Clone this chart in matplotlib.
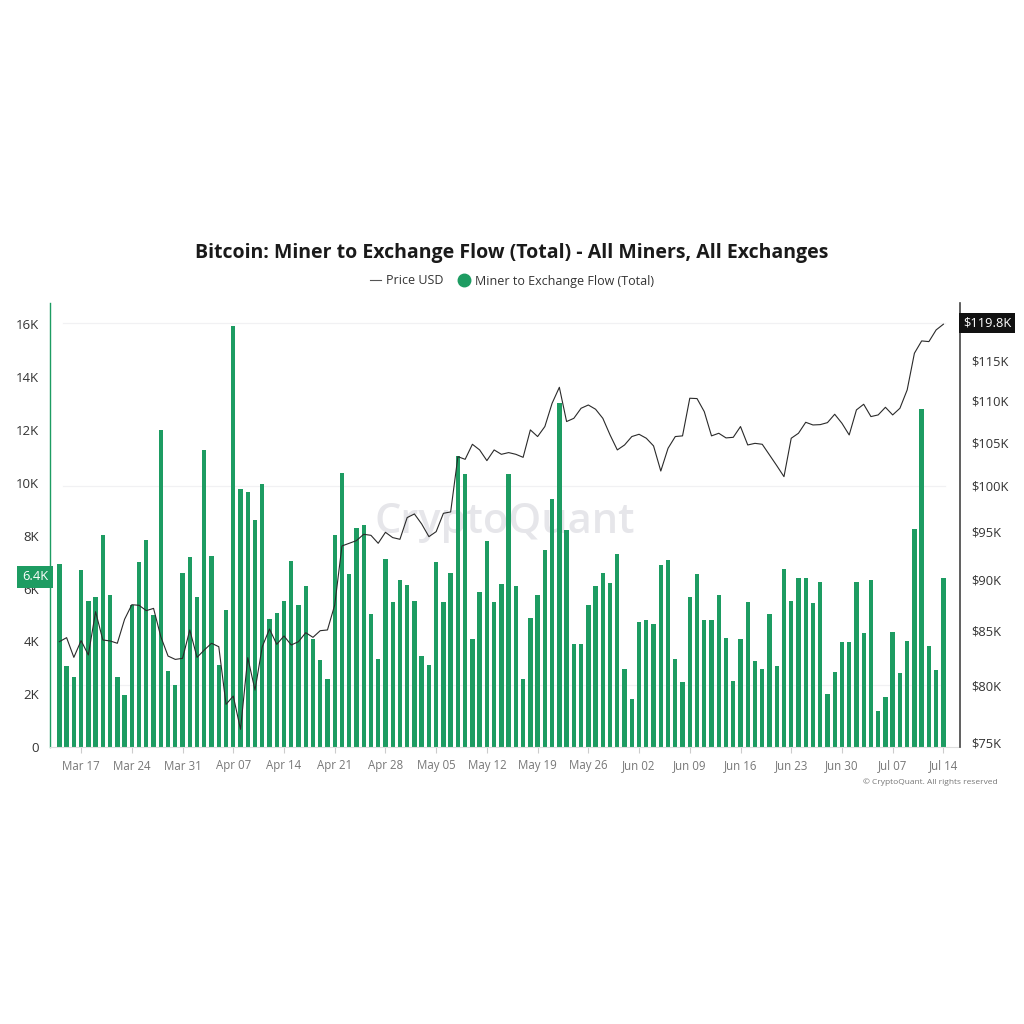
import matplotlib
matplotlib.use('Agg')
import matplotlib.pyplot as plt
import matplotlib.ticker as mticker
import matplotlib.transforms as mtransforms
from matplotlib.lines import Line2D
import pandas as pd

plt.rcParams['font.family'] = ['Open Sans', 'DejaVu Sans']

start_date = '2025-03-14'

# Miner to Exchange Flow (Total), BTC per day
flow_btc = [
    6920, 3060, 2650, 6720, 5530, 5690, 8020, 5770, 2650, 1980,
    5370, 7020, 7830, 5010, 12020, 2870, 2360, 6570, 7200, 5680,
    11240, 7220, 3110, 5200, 15930, 9760, 9650, 8610, 9950, 4840,
    5090, 5510, 7060, 5390, 6100, 4070, 3300, 2590, 8040, 10380,
    6540, 8280, 8400, 5040, 3320, 7100, 5480, 6340, 6120, 5540,
    3460, 3090, 7000, 5480, 6590, 11020, 10330, 4100, 5860, 7800,
    5490, 6170, 10330, 6100, 2560, 4890, 5760, 7450, 9390, 13030,
    8210, 3910, 3900, 5370, 6110, 6590, 6200, 7290, 2970, 1820,
    4720, 4800, 4660, 6890, 7080, 3330, 2470, 5690, 6540, 4800,
    4800, 5760, 4130, 2500, 4100, 5490, 3240, 2970, 5030, 3070,
    6730, 5540, 6400, 6410, 5450, 6240, 2020, 2830, 3960, 3960,
    6240, 4330, 6340, 1360, 1890, 4370, 2800, 4030, 8260, 12790,
    3810, 2930, 6400,
]

# Price USD
price_usd = [
    83980, 84360, 82520, 84080, 82740, 86850, 84140, 84050, 83830, 86110,
    87530, 87470, 86950, 87170, 84450, 82640, 82330, 82430, 85090, 82520,
    83200, 83830, 83510, 78290, 79020, 76130, 82490, 79550, 83510, 85180,
    83730, 84520, 83670, 83980, 84830, 84390, 85020, 85090, 87500, 93480,
    93760, 94040, 94710, 94600, 93760, 94920, 94360, 94180, 96500, 96890,
    95810, 94460, 94990, 96960, 97110, 103310, 103000, 104750, 104090, 102850,
    104090, 103580, 103780, 103580, 103230, 106450, 105660, 106850, 109670, 111650,
    107450, 107840, 109060, 109460, 108940, 107840, 105850, 104090, 104670, 105660,
    105930, 105460, 104560, 101660, 104280, 105660, 105740, 110290, 110250, 108650,
    105740, 106050, 105500, 105570, 106850, 104670, 104860, 104750, 103510, 102280,
    101020, 105460, 106050, 107360, 107040, 107080, 107320, 108330, 107240, 105850,
    108860, 109550, 108050, 108250, 109180, 108250, 109060, 111320, 115990, 117600,
    117510, 119060, 119820,
]

left_ticks = [0, 2000, 4000, 6000, 8000, 10000, 12000, 14000, 16000]
left_labels = ['0', '2K', '4K', '6K', '8K', '10K', '12K', '14K', '16K']
right_ticks = [75000, 80000, 85000, 90000, 95000, 100000, 105000, 110000, 115000]
right_labels = ['$75K', '$80K', '$85K', '$90K', '$95K', '$100K', '$105K', '$110K', '$115K']
grid_prices = [80000, 100000, 120000]

dates = pd.date_range(start_date, periods=len(flow_btc), freq='D')
xtick_dates = pd.date_range('2025-03-17', '2025-07-14', freq='7D')

GREEN = '#1d9c62'
W = 1024.0

fig = plt.figure(figsize=(10.24, 10.24), dpi=100)
fig.patch.set_facecolor('white')
ax = fig.add_axes([50 / W, 1 - 747 / W, 910 / W, 444 / W])
ax2 = ax.twinx()

# bars
ax.bar(dates, flow_btc, width=0.6, color=GREEN, zorder=2, linewidth=0)
ax.set_ylim(0, 16810)
ax.set_yticks(left_ticks)
ax.set_yticklabels(left_labels)
ax.tick_params(axis='y', length=0, pad=8, labelsize=9.5, labelcolor='#333333')

# price line
ax2.plot(dates, price_usd, color='#2a2a2a', lw=0.8, zorder=3)
ax2.set_yscale('log')
ax2.set_ylim(74640, 122700)
ax2.yaxis.set_minor_locator(mticker.NullLocator())
ax2.set_yticks(right_ticks)
ax2.set_yticklabels(right_labels)
ax2.yaxis.set_minor_formatter(mticker.NullFormatter())
ax2.tick_params(axis='y', length=0, pad=8, labelsize=9.3, labelcolor='#333333')

# grid lines (behind bars)
tr = mtransforms.blended_transform_factory(ax.transAxes, ax2.transData)
for gp in grid_prices:
    ax.plot([0.014, 0.983], [gp, gp], transform=tr, color='#f1f1f3', lw=0.9, zorder=0)

# x axis
ax.set_xlim(dates[0] - pd.Timedelta(hours=31), dates[-1] + pd.Timedelta(hours=55))
ax.set_xticks(xtick_dates)
ax.set_xticklabels([d.strftime('%b %d') for d in xtick_dates])
ax.tick_params(axis='x', length=4, width=0.8, color='#cccccc', pad=5, labelsize=8.3,
               labelcolor='#777777')

for a in (ax, ax2):
    a.spines['top'].set_visible(False)
ax.spines['left'].set_color(GREEN)
ax.spines['left'].set_linewidth(1.0)
ax.spines['right'].set_visible(False)
ax.spines['bottom'].set_color('#dddddd')
ax.spines['bottom'].set_linewidth(0.8)
ax2.spines['left'].set_visible(False)
ax2.spines['bottom'].set_visible(False)
ax2.spines['right'].set_color('#444444')
ax2.spines['right'].set_linewidth(1.2)

# watermark
ax.text(0.5, 0.507, 'CryptoQuant', transform=ax.transAxes, ha='center', va='center',
        fontsize=30, fontweight='semibold', color='#e6e6ea', zorder=1)

# title and legend
fig.text(512 / W, 1 - 253 / W,
         'Bitcoin: Miner to Exchange Flow (Total) - All Miners, All Exchanges',
         ha='center', va='center', fontsize=14, fontweight='bold', color='#1a1a1a')
handles = [Line2D([0], [0], color='#555555', lw=0.8),
           Line2D([0], [0], marker='o', color='none', markerfacecolor=GREEN,
                  markeredgecolor=GREEN, markersize=9)]
fig.legend(handles, ['Price USD', 'Miner to Exchange Flow (Total)'], loc='center',
           bbox_to_anchor=(512 / W, 1 - 281 / W), ncol=2, frameon=False, fontsize=9,
           handlelength=0.9, handletextpad=0.4, columnspacing=1.2, labelcolor='#333333')

# value labels
fig.text(963 / W, 1 - 323 / W, '$119.8K', ha='left', va='center', fontsize=9.3,
         color='white', bbox=dict(boxstyle='square,pad=0.3', fc='#111111', ec='none'))
fig.text(35 / W, 1 - 577 / W, '6.4K', ha='center', va='center', fontsize=9.3,
         color='white', bbox=dict(boxstyle='square,pad=0.35', fc=GREEN, ec='none'))

fig.text(998 / W, 1 - 782 / W, '\u00a9 CryptoQuant. All rights reserved', ha='right',
         va='center', fontsize=6, color='#777777')

fig.savefig('out.png', dpi=100, facecolor='white')
